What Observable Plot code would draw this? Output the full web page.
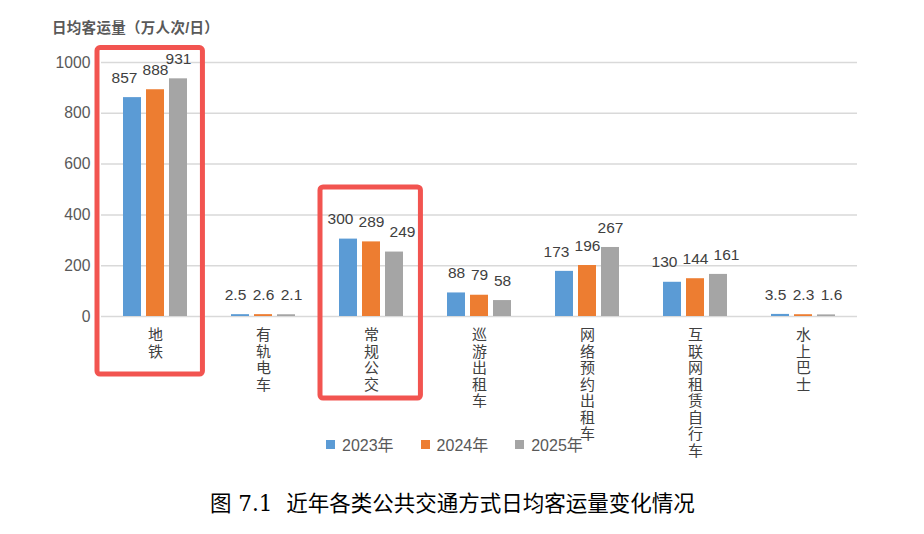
<!DOCTYPE html>
<html>
<head>
<meta charset="utf-8">
<script src="https://cdn.jsdelivr.net/npm/d3@7"></script>
<script src="https://cdn.jsdelivr.net/npm/@observablehq/plot@0.6"></script>
<style>
  html, body { margin: 0; padding: 0; background: #fff; }
  #wrap { position: relative; width: 924px; height: 534px; overflow: hidden;
          font-family: "Liberation Sans", Arial, "Noto Sans CJK SC", sans-serif; }
  #ytitle { position: absolute; left: 52px; top: 16px; font-size: 14.5px; font-weight: bold;
            color: #595959; white-space: nowrap; letter-spacing: 0.3px; }
  #legend { position: absolute; left: 326px; top: 432px; display: flex; gap: 27px;
            font-size: 16px; color: #595959; white-space: nowrap; }
  #legend .item { display: flex; align-items: center; }
  #legend .sw { width: 9px; height: 9px; margin-right: 7px; }
  #caption { position: absolute; left: 210px; top: 486px; font-size: 21.5px; color: #000;
             font-family: "DejaVu Serif", "Noto Sans CJK SC", serif; white-space: nowrap; }
  #chart { position: absolute; left: 0; top: 0; }
</style>
</head>
<body>
<div id="wrap">
  <div id="chart"></div>
  <div id="ytitle">日均客运量（万人次/日）</div>
  <div id="legend"></div>
  <div id="caption">图 7.1&nbsp; 近年各类公共交通方式日均客运量变化情况</div>
</div>
<script>
const categories = ["地铁", "有轨电车", "常规公交", "巡游出租车", "网络预约出租车", "互联网租赁自行车", "水上巴士"];
const years = ["2023年", "2024年", "2025年"];
const values2023 = [857, 2.5, 300, 88, 173, 130, 3.5];
const values2024 = [888, 2.6, 289, 79, 196, 144, 2.3];
const values2025 = [931, 2.1, 249, 58, 267, 161, 1.6];
const yTicks = [0, 200, 400, 600, 800, 1000];
const colors = ["#5B9BD5", "#ED7D31", "#A5A5A5"];
const highlighted = ["地铁", "常规公交"];

const series = [values2023, values2024, values2025];
const data = [];
categories.forEach((c, i) => {
  years.forEach((y, j) => data.push({cat: c, year: y, value: series[j][i], j}));
});

// simple label collision avoidance (like the spreadsheet's): push outer labels outward
// when a wide label sits at nearly the same height as its middle neighbour
const labelFont = 15.5;
const textWidth = s => [...s].reduce((w, ch) => w + (ch === "." ? 0.278 : 0.556), 0) * labelFont;
data.forEach(d => {
  d.label = String(d.value);
  d.shift = 0;
  if (d.j === 1) return;
  const mid = data.find(e => e.cat === d.cat && e.j === 1);
  const w = (textWidth(d.label) + textWidth(String(mid.value))) / 2;
  if (Math.abs(d.value - mid.value) < 43) {
    const m = Math.round(Math.max(0, Math.min(8, w - 17)));
    d.shift = d.j === 0 ? -m : m;
  }
});
const shifts = [...new Set(data.map(d => d.shift))];
const labelMarks = shifts.map(s =>
  Plot.text(data.filter(d => d.shift === s), {fx: "cat", x: "year", y: "value", text: "label",
    dy: -21, dx: s, fontSize: labelFont, fill: "#404040"}));

const chart = Plot.plot({
  width: 924,
  height: 470,
  marginTop: 62,
  marginBottom: 154,
  marginLeft: 99,
  marginRight: 66,
  style: {fontFamily: '"Liberation Sans", Arial, "Noto Sans CJK SC", sans-serif', background: "transparent"},
  fx: {domain: categories, padding: 0},
  x: {domain: years, paddingInner: 0.2, paddingOuter: 0.87, axis: null},
  y: {domain: [0, 1000]},
  color: {domain: years, range: colors},
  marks: [
    Plot.gridY(yTicks, {stroke: "#D9D9D9", strokeOpacity: 1, strokeWidth: 1.5}),
    Plot.axisY({ticks: yTicks, tickFormat: d => String(d), tickSize: 0, tickPadding: 11, label: null,
      fontSize: 15.7, fill: "#595959"}),
    Plot.axisFx({anchor: "bottom", tickSize: 0, tickPadding: 12, label: null,
      tickFormat: d => [...d].join("\n"), lineHeight: 1.1, fontSize: 15, fill: "#404040"}),
    Plot.barY(data, {fx: "cat", x: "year", y: "value", fill: "year", insetTop: -1.2}),
    ...labelMarks
  ]
});
document.getElementById("chart").appendChild(chart);

// highlight boxes, positioned from the library's scales
const fx = chart.scale("fx");
const ys = chart.scale("y");
const step = (fx.range[1] - fx.range[0]) / categories.length;
const bandStart = c => fx.apply ? fx.apply(c) : fx.range[0] + categories.indexOf(c) * step;
const yOf = v => ys.apply ? ys.apply(v) : 316 - v * 0.254;
const boxSpec = {"地铁": {top: 1057, drop: 58, l: -4, r: -7}, "常规公交": {top: 508, drop: 82, l: 3, r: -5}};
const ns = "http://www.w3.org/2000/svg";
highlighted.forEach(c => {
  const s = boxSpec[c];
  const x0 = bandStart(c) + s.l;
  const x1 = bandStart(c) + step + s.r;
  const y0 = yOf(s.top);
  const y1 = yOf(0) + s.drop;
  const r = document.createElementNS(ns, "rect");
  r.setAttribute("x", x0); r.setAttribute("y", y0);
  r.setAttribute("width", x1 - x0); r.setAttribute("height", y1 - y0);
  r.setAttribute("rx", 3);
  r.setAttribute("fill", "none"); r.setAttribute("stroke", "#F25450"); r.setAttribute("stroke-width", 5);
  chart.appendChild(r);
});

// legend
const lg = document.getElementById("legend");
years.forEach((y, i) => {
  const it = document.createElement("div"); it.className = "item";
  const sw = document.createElement("span"); sw.className = "sw"; sw.style.background = colors[i];
  const t = document.createElement("span"); t.textContent = y;
  it.appendChild(sw); it.appendChild(t); lg.appendChild(it);
});
</script>
</body>
</html>
